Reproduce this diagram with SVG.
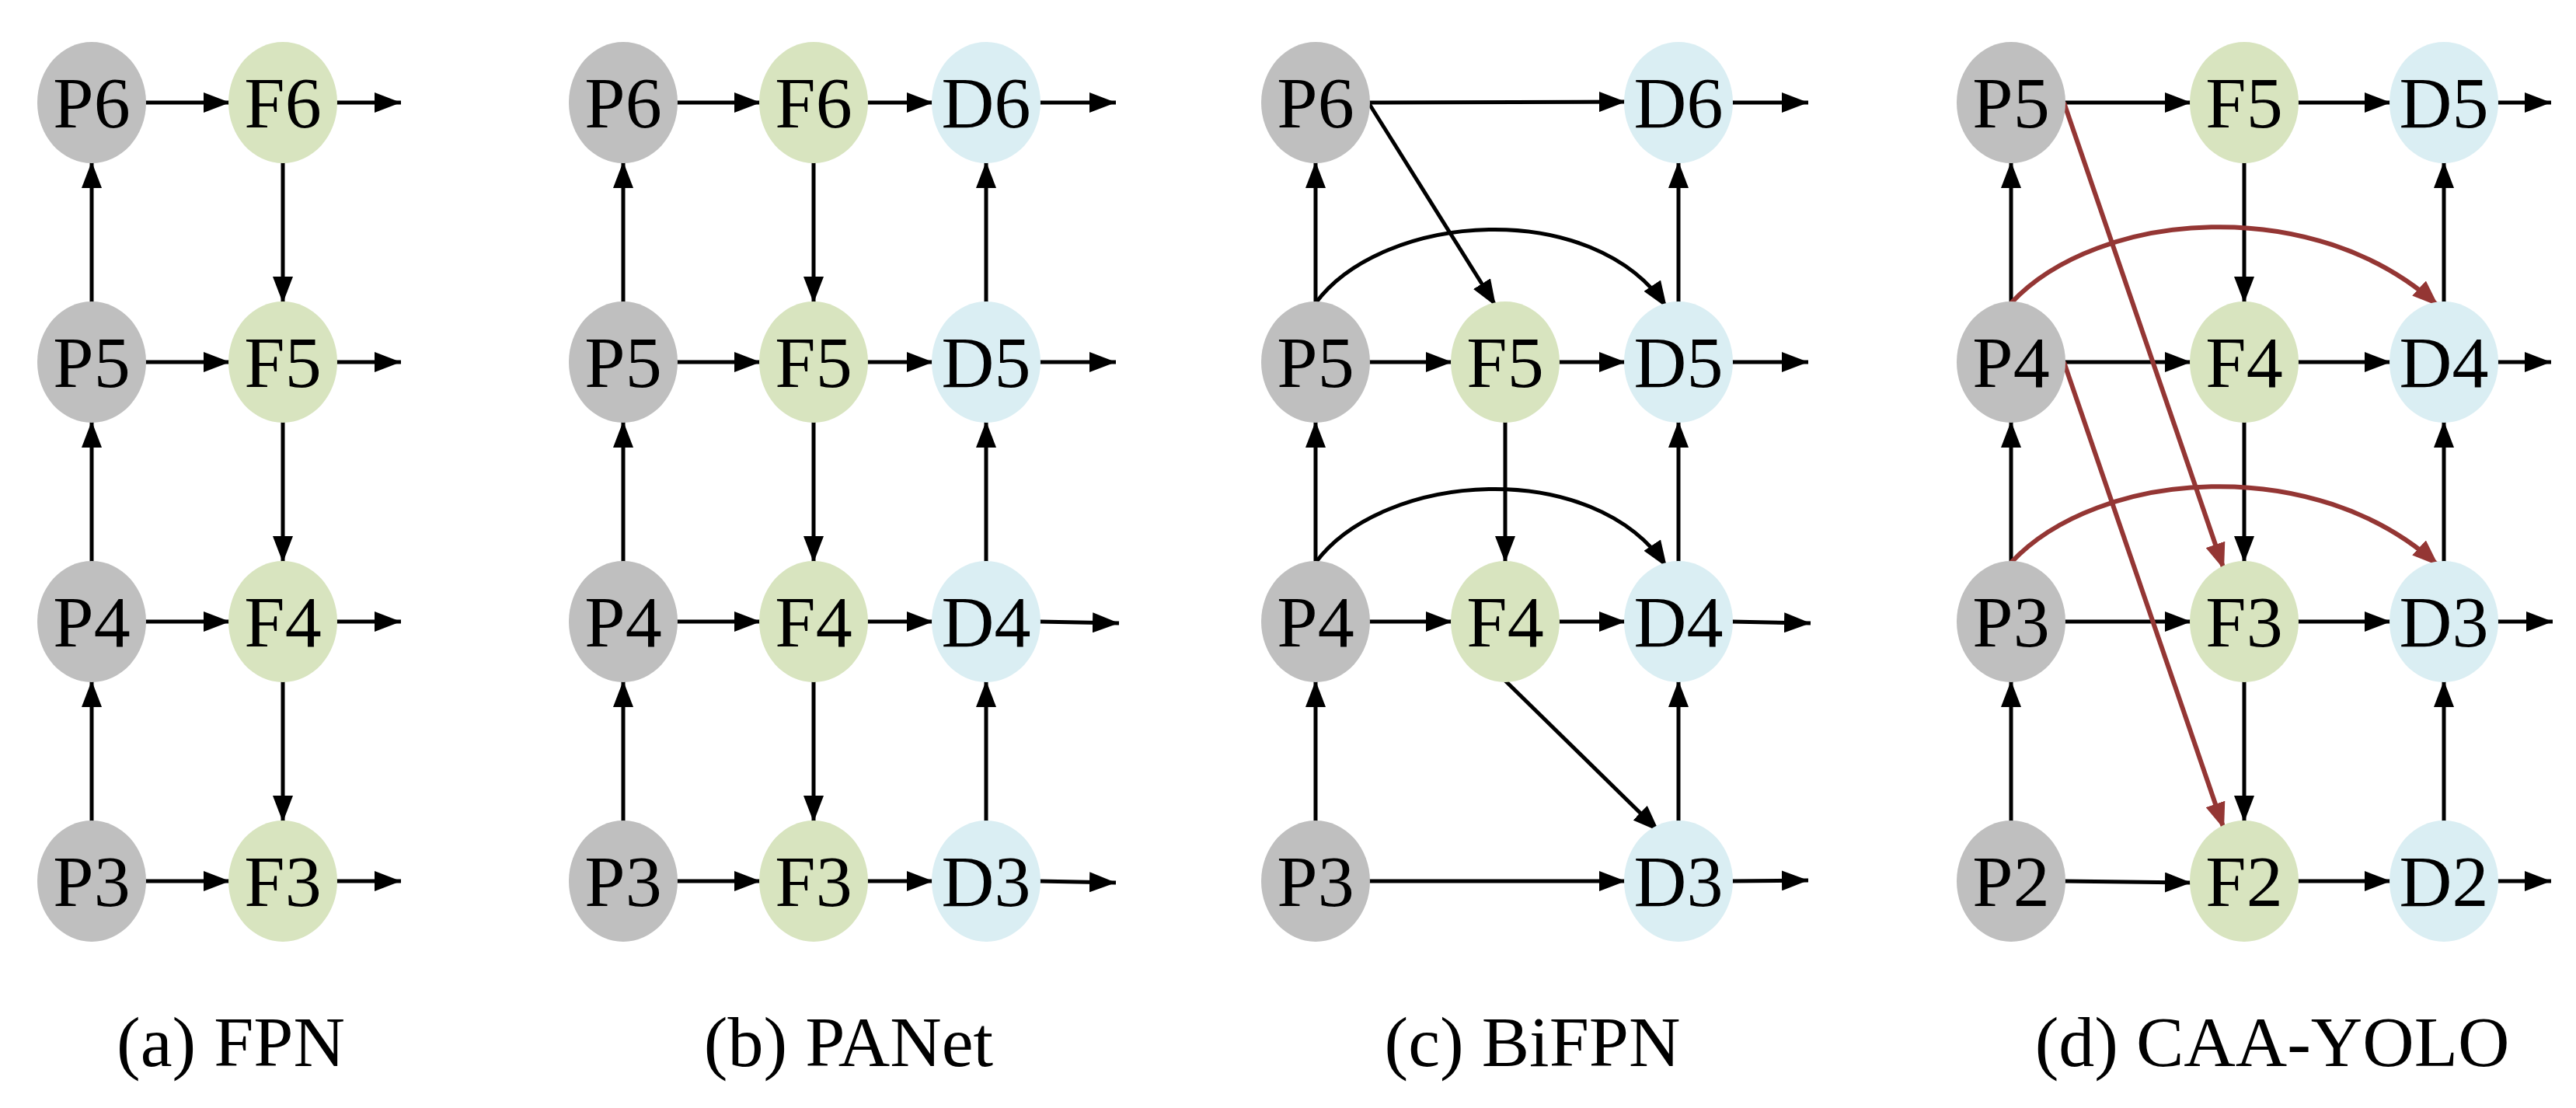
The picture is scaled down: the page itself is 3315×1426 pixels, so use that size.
<svg xmlns="http://www.w3.org/2000/svg" width="3315" height="1426" viewBox="0 0 3315 1426">
<style>
.p{fill:#bfbfbf}.f{fill:#d8e4bf}.d{fill:#daeef3}
text{font-family:"Liberation Serif","Times New Roman",serif;fill:#000;text-anchor:middle}
.n{font-size:94px}.c{font-size:92px}
.k{stroke:#000;stroke-width:5;fill:none;marker-end:url(#ab)}
.r{stroke:#943634;stroke-width:6;fill:none;marker-end:url(#ar)}
</style>
<defs>
<marker id="ab" viewBox="0 0 34 26" refX="34" refY="13" markerWidth="34" markerHeight="26" markerUnits="userSpaceOnUse" orient="auto"><path d="M0,0L34,13L0,26z" fill="#000"/></marker>
<marker id="ar" viewBox="0 0 34 26" refX="34" refY="13" markerWidth="34" markerHeight="26" markerUnits="userSpaceOnUse" orient="auto"><path d="M0,0L34,13L0,26z" fill="#943634"/></marker>
</defs>
<rect width="3315" height="1426" fill="#fff"/>
<g id="connectors">
<!-- a -->
<path class="k" d="M186,132H296"/><path class="k" d="M186,466H296"/><path class="k" d="M186,800H296"/><path class="k" d="M186,1134H296"/>
<path class="k" d="M432,132H516"/><path class="k" d="M432,466H516"/><path class="k" d="M432,800H516"/><path class="k" d="M432,1134H516"/>
<path class="k" d="M118,1058V876"/><path class="k" d="M118,724V542"/><path class="k" d="M118,390V208"/>
<path class="k" d="M364,208V390"/><path class="k" d="M364,542V724"/><path class="k" d="M364,876V1058"/>
<!-- b -->
<path class="k" d="M870,132H979"/><path class="k" d="M870,466H979"/><path class="k" d="M870,800H979"/><path class="k" d="M870,1134H979"/>
<path class="k" d="M1115,132H1201"/><path class="k" d="M1115,466H1201"/><path class="k" d="M1115,800H1201"/><path class="k" d="M1115,1134H1201"/>
<path class="k" d="M1337,132H1436"/><path class="k" d="M1337,466H1436"/><path class="k" d="M1337,800L1440,802"/><path class="k" d="M1337,1134L1436,1136"/>
<path class="k" d="M802,1058V876"/><path class="k" d="M802,724V542"/><path class="k" d="M802,390V208"/>
<path class="k" d="M1047,208V390"/><path class="k" d="M1047,542V724"/><path class="k" d="M1047,876V1058"/>
<path class="k" d="M1269,1058V876"/><path class="k" d="M1269,724V542"/><path class="k" d="M1269,390V208"/>
<!-- c -->
<path class="k" d="M1761,132L2092,131"/><path class="k" d="M1761,466H1869"/><path class="k" d="M2005,466H2092"/><path class="k" d="M1761,800H1869"/><path class="k" d="M2005,800H2092"/><path class="k" d="M1761,1134H2092"/>
<path class="k" d="M2228,132H2327"/><path class="k" d="M2228,466H2327"/><path class="k" d="M2228,800L2330,802"/><path class="k" d="M2228,1134L2327,1133"/>
<path class="k" d="M1761,132L1925,394"/><path class="k" d="M1937,876L2135,1070"/>
<path class="k" d="M1693,1058V876"/><path class="k" d="M1693,724V542"/><path class="k" d="M1693,390V208"/>
<path class="k" d="M1937,542V724"/>
<path class="k" d="M2160,1058V876"/><path class="k" d="M2160,724V542"/><path class="k" d="M2160,390V208"/>
<path class="k" d="M1693,390C1780,273 2050,253 2145,396"/><path class="k" d="M1693,724C1780,607 2050,587 2145,730"/>
<!-- d -->
<path class="k" d="M2656,132H2820"/><path class="k" d="M2656,466H2820"/><path class="k" d="M2656,800H2820"/><path class="k" d="M2656,1134L2820,1136"/>
<path class="k" d="M2956,132H3077"/><path class="k" d="M2956,466H3077"/><path class="k" d="M2956,800H3077"/><path class="k" d="M2956,1134H3077"/>
<path class="k" d="M3213,132H3283"/><path class="k" d="M3213,466H3283"/><path class="k" d="M3213,800H3285"/><path class="k" d="M3213,1134H3283"/>
<path class="k" d="M2588,1058V876"/><path class="k" d="M2588,724V542"/><path class="k" d="M2588,390V208"/>
<path class="k" d="M2888,208V390"/><path class="k" d="M2888,542V724"/><path class="k" d="M2888,876V1058"/>
<path class="k" d="M3145,1058V876"/><path class="k" d="M3145,724V542"/><path class="k" d="M3145,390V208"/>
<path class="r" d="M2656,132L2862,733"/><path class="r" d="M2656,466L2862,1067"/>
<path class="r" d="M2588,390C2700,270 2980,248 3138,394"/><path class="r" d="M2588,724C2700,604 2980,582 3138,728"/>
</g>
<g id="nodes-a">
<g id="a-P6"><ellipse class="p" cx="118" cy="132" rx="70" ry="78"/><text class="n" x="118" y="164">P6</text></g>
<g id="a-P5"><ellipse class="p" cx="118" cy="466" rx="70" ry="78"/><text class="n" x="118" y="498">P5</text></g>
<g id="a-P4"><ellipse class="p" cx="118" cy="800" rx="70" ry="78"/><text class="n" x="118" y="832">P4</text></g>
<g id="a-P3"><ellipse class="p" cx="118" cy="1134" rx="70" ry="78"/><text class="n" x="118" y="1166">P3</text></g>
<g id="a-F6"><ellipse class="f" cx="364" cy="132" rx="70" ry="78"/><text class="n" x="364" y="164">F6</text></g>
<g id="a-F5"><ellipse class="f" cx="364" cy="466" rx="70" ry="78"/><text class="n" x="364" y="498">F5</text></g>
<g id="a-F4"><ellipse class="f" cx="364" cy="800" rx="70" ry="78"/><text class="n" x="364" y="832">F4</text></g>
<g id="a-F3"><ellipse class="f" cx="364" cy="1134" rx="70" ry="78"/><text class="n" x="364" y="1166">F3</text></g>
</g>
<g id="nodes-b">
<g id="b-P6"><ellipse class="p" cx="802" cy="132" rx="70" ry="78"/><text class="n" x="802" y="164">P6</text></g>
<g id="b-P5"><ellipse class="p" cx="802" cy="466" rx="70" ry="78"/><text class="n" x="802" y="498">P5</text></g>
<g id="b-P4"><ellipse class="p" cx="802" cy="800" rx="70" ry="78"/><text class="n" x="802" y="832">P4</text></g>
<g id="b-P3"><ellipse class="p" cx="802" cy="1134" rx="70" ry="78"/><text class="n" x="802" y="1166">P3</text></g>
<g id="b-F6"><ellipse class="f" cx="1047" cy="132" rx="70" ry="78"/><text class="n" x="1047" y="164">F6</text></g>
<g id="b-F5"><ellipse class="f" cx="1047" cy="466" rx="70" ry="78"/><text class="n" x="1047" y="498">F5</text></g>
<g id="b-F4"><ellipse class="f" cx="1047" cy="800" rx="70" ry="78"/><text class="n" x="1047" y="832">F4</text></g>
<g id="b-F3"><ellipse class="f" cx="1047" cy="1134" rx="70" ry="78"/><text class="n" x="1047" y="1166">F3</text></g>
<g id="b-D6"><ellipse class="d" cx="1269" cy="132" rx="70" ry="78"/><text class="n" x="1269" y="164">D6</text></g>
<g id="b-D5"><ellipse class="d" cx="1269" cy="466" rx="70" ry="78"/><text class="n" x="1269" y="498">D5</text></g>
<g id="b-D4"><ellipse class="d" cx="1269" cy="800" rx="70" ry="78"/><text class="n" x="1269" y="832">D4</text></g>
<g id="b-D3"><ellipse class="d" cx="1269" cy="1134" rx="70" ry="78"/><text class="n" x="1269" y="1166">D3</text></g>
</g>
<g id="nodes-c">
<g id="c-P6"><ellipse class="p" cx="1693" cy="132" rx="70" ry="78"/><text class="n" x="1693" y="164">P6</text></g>
<g id="c-P5"><ellipse class="p" cx="1693" cy="466" rx="70" ry="78"/><text class="n" x="1693" y="498">P5</text></g>
<g id="c-P4"><ellipse class="p" cx="1693" cy="800" rx="70" ry="78"/><text class="n" x="1693" y="832">P4</text></g>
<g id="c-P3"><ellipse class="p" cx="1693" cy="1134" rx="70" ry="78"/><text class="n" x="1693" y="1166">P3</text></g>
<g id="c-F5"><ellipse class="f" cx="1937" cy="466" rx="70" ry="78"/><text class="n" x="1937" y="498">F5</text></g>
<g id="c-F4"><ellipse class="f" cx="1937" cy="800" rx="70" ry="78"/><text class="n" x="1937" y="832">F4</text></g>
<g id="c-D6"><ellipse class="d" cx="2160" cy="132" rx="70" ry="78"/><text class="n" x="2160" y="164">D6</text></g>
<g id="c-D5"><ellipse class="d" cx="2160" cy="466" rx="70" ry="78"/><text class="n" x="2160" y="498">D5</text></g>
<g id="c-D4"><ellipse class="d" cx="2160" cy="800" rx="70" ry="78"/><text class="n" x="2160" y="832">D4</text></g>
<g id="c-D3"><ellipse class="d" cx="2160" cy="1134" rx="70" ry="78"/><text class="n" x="2160" y="1166">D3</text></g>
</g>
<g id="nodes-d">
<g id="d-P5"><ellipse class="p" cx="2588" cy="132" rx="70" ry="78"/><text class="n" x="2588" y="164">P5</text></g>
<g id="d-P4"><ellipse class="p" cx="2588" cy="466" rx="70" ry="78"/><text class="n" x="2588" y="498">P4</text></g>
<g id="d-P3"><ellipse class="p" cx="2588" cy="800" rx="70" ry="78"/><text class="n" x="2588" y="832">P3</text></g>
<g id="d-P2"><ellipse class="p" cx="2588" cy="1134" rx="70" ry="78"/><text class="n" x="2588" y="1166">P2</text></g>
<g id="d-F5"><ellipse class="f" cx="2888" cy="132" rx="70" ry="78"/><text class="n" x="2888" y="164">F5</text></g>
<g id="d-F4"><ellipse class="f" cx="2888" cy="466" rx="70" ry="78"/><text class="n" x="2888" y="498">F4</text></g>
<g id="d-F3"><ellipse class="f" cx="2888" cy="800" rx="70" ry="78"/><text class="n" x="2888" y="832">F3</text></g>
<g id="d-F2"><ellipse class="f" cx="2888" cy="1134" rx="70" ry="78"/><text class="n" x="2888" y="1166">F2</text></g>
<g id="d-D5"><ellipse class="d" cx="3145" cy="132" rx="70" ry="78"/><text class="n" x="3145" y="164">D5</text></g>
<g id="d-D4"><ellipse class="d" cx="3145" cy="466" rx="70" ry="78"/><text class="n" x="3145" y="498">D4</text></g>
<g id="d-D3"><ellipse class="d" cx="3145" cy="800" rx="70" ry="78"/><text class="n" x="3145" y="832">D3</text></g>
<g id="d-D2"><ellipse class="d" cx="3145" cy="1134" rx="70" ry="78"/><text class="n" x="3145" y="1166">D2</text></g>
</g>
<g id="captions">
<text class="c" x="297" y="1372">(a) FPN</text>
<text class="c" x="1092" y="1372">(b) PANet</text>
<text class="c" x="1972" y="1372">(c) BiFPN</text>
<text class="c" x="2924" y="1372">(d) CAA-YOLO</text>
</g>
</svg>
